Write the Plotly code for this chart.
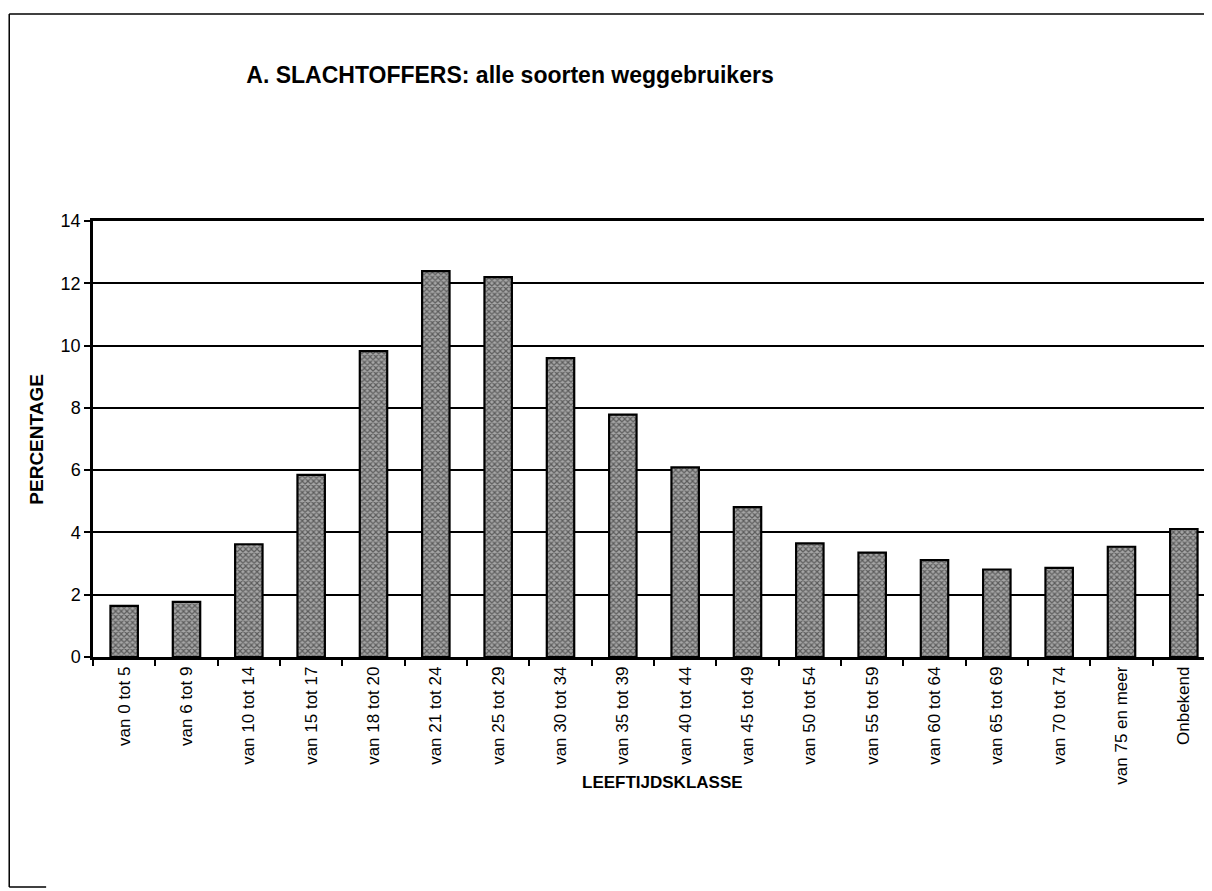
import plotly.graph_objs as go

# age classes and share of road casualties (%)
categories = [
    "van 0 tot 5", "van 6 tot 9", "van 10 tot 14", "van 15 tot 17",
    "van 18 tot 20", "van 21 tot 24", "van 25 tot 29", "van 30 tot 34",
    "van 35 tot 39", "van 40 tot 44", "van 45 tot 49", "van 50 tot 54",
    "van 55 tot 59", "van 60 tot 64", "van 65 tot 69", "van 70 tot 74",
    "van 75 en meer", "Onbekend",
]
percentages = [
    1.64, 1.77, 3.62, 5.85, 9.82, 12.39, 12.20, 9.60, 7.78,
    6.09, 4.81, 3.65, 3.35, 3.11, 2.81, 2.86, 3.54, 4.11,
]
y_ticks = [0, 2, 4, 6, 8, 10, 12, 14]

FONT = "Liberation Sans, Arial, sans-serif"
W, H = 1212, 891
L, R, T, B = 85, 1210, 213, 649  # plot area in pixels


def px(x):
    return (x - L) / (R - L)


def py(y):
    return (B - y) / (B - T)


fig = go.Figure()

fig.add_trace(go.Bar(
    x=categories,
    y=percentages,
    marker=dict(
        color="#909090",
        line=dict(color="black", width=2.2),
        pattern=dict(shape="x", fgcolor="#111111", bgcolor="#a6a6a6",
                     size=4, solidity=0.5),
    ),
    width=0.44,
    showlegend=False,
))

frame = dict(color="black", width=1.5)

fig.update_layout(
    width=W,
    height=H,
    paper_bgcolor="white",
    plot_bgcolor="white",
    margin=dict(l=L, r=W - R, t=T, b=H - B),
    font=dict(family=FONT, color="black", size=16),
    title=dict(
        text="<b>A. SLACHTOFFERS: alle soorten weggebruikers</b>",
        x=502 / W, xref="container", xanchor="center",
        y=1 - 67 / H, yref="container", yanchor="middle",
        font=dict(family=FONT, size=23, color="black"),
    ),
    xaxis=dict(
        type="category",
        tickangle=-90,
        tickfont=dict(family=FONT, size=17),
        ticks="outside",
        ticklen=6,
        tickcolor="black",
        tickwidth=1.5,
        tickson="boundaries",
        showline=True,
        linecolor="black",
        linewidth=2.5,
        mirror=True,
        showgrid=False,
    ),
    yaxis=dict(
        range=[0, 14],
        tickvals=y_ticks,
        tickfont=dict(family=FONT, size=18),
        ticks="outside",
        ticklen=6,
        tickcolor="black",
        tickwidth=1.5,
        showline=True,
        linecolor="black",
        linewidth=2.5,
        mirror=True,
        showgrid=True,
        gridcolor="black",
        gridwidth=1.6,
        zeroline=False,
    ),
    annotations=[
        dict(
            text="<b>PERCENTAGE</b>", textangle=-90,
            x=px(15), y=0.5, xref="paper", yref="paper",
            showarrow=False, font=dict(family=FONT, size=19),
        ),
        dict(
            text="<b>LEEFTIJDSKLASSE</b>",
            x=px(656), y=py(786), xref="paper", yref="paper",
            showarrow=False, font=dict(family=FONT, size=17),
        ),
    ],
    shapes=[
        # outer chart frame: left and top edges, right side runs off the page
        dict(type="line", xref="paper", yref="paper",
             x0=px(1), x1=px(1), y0=py(879), y1=py(6), line=frame),
        dict(type="line", xref="paper", yref="paper",
             x0=px(1), x1=px(1260), y0=py(6), y1=py(6), line=frame),
        dict(type="line", xref="paper", yref="paper",
             x0=px(1), x1=px(38), y0=py(879), y1=py(879), line=frame),
    ],
)

fig.write_html("out.html")
